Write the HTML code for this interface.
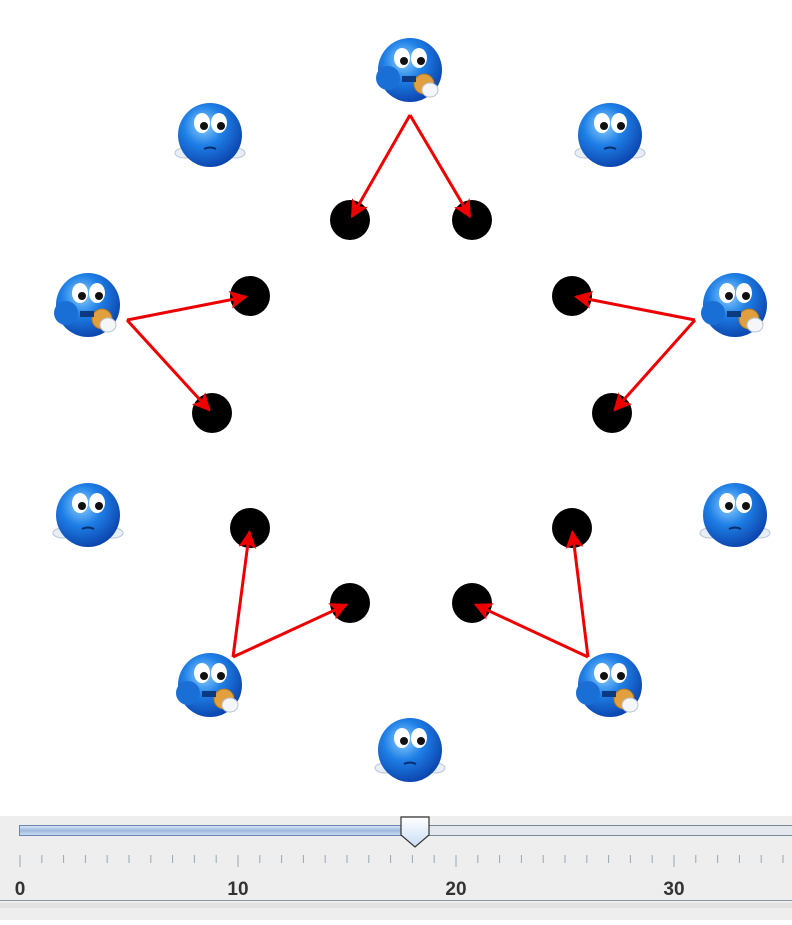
<!DOCTYPE html>
<html><head><meta charset="utf-8"><style>
body{margin:0;width:792px;height:920px;overflow:hidden;background:#fff;font-family:"Liberation Sans",sans-serif}
#slider{position:absolute;left:0;top:816px;width:792px;height:104px;background:#eeeeee}
</style></head><body>
<svg id="scene" width="792" height="816" style="position:absolute;left:0;top:0">
<defs>
<radialGradient id="face" cx="0.4" cy="0.35" r="0.7"><stop offset="0" stop-color="#8fd0ff"/><stop offset="0.45" stop-color="#1e7fe6"/><stop offset="1" stop-color="#0a3fa8"/></radialGradient>
<marker id="ah" markerWidth="20" markerHeight="18" refX="16" refY="9" orient="auto" markerUnits="userSpaceOnUse"><path d="M0,0 L18,9 L0,18 L4,9z" fill="#e00"/></marker>
</defs>
</svg>
<div id="slider">
<svg width="792" height="104">
<defs><linearGradient id="trk" x1="0" y1="0" x2="0" y2="1"><stop offset="0" stop-color="#dfe9f7"/><stop offset="0.5" stop-color="#9db8df"/><stop offset="1" stop-color="#cfdff2"/></linearGradient>
<linearGradient id="th" x1="0" y1="0" x2="0" y2="1"><stop offset="0" stop-color="#ffffff"/><stop offset="1" stop-color="#c9def5"/></linearGradient></defs>
<rect x="19.5" y="9.5" width="780" height="10" fill="#e4e8ee" stroke="#7a8797"/>
<rect x="19.5" y="9.5" width="396" height="10" fill="url(#trk)" stroke="#6b84b0"/>
<g id="ticks"></g>
<path d="M401,1 h28 v18 l-14,12 l-14,-12z" fill="url(#th)" stroke="#333" stroke-width="1.2"/>
<line x1="0" y1="84.5" x2="792" y2="84.5" stroke="#8a96a4"/>
<rect x="0" y="87" width="792" height="5" fill="#e2e2e2"/>
</svg></div>
<script>
const philX=[410,610,735,735,610,410,210,88,88,210];
const philY=[70,135,305,515,685,750,685,515,305,135];
const eating=[1,0,1,0,1,0,1,0,1,0];
const forkX=[350,472,572,612,572,472,350,250,212,250];
const forkY=[220,220,296,413,528,603,603,528,413,296];
const arrowFrom=[0,0,2,2,4,4,6,6,8,8];
const arrowTo=[0,1,2,3,4,5,6,7,8,9];
const arrowStartX=[410,410,695,695,588,588,233,233,127,127];
const arrowStartY=[115,115,320,320,657,657,657,657,320,320];
const NS="http://www.w3.org/2000/svg";
const sc=document.getElementById('scene');
function mk(t,a,p){const e=document.createElementNS(NS,t);for(const k in a)e.setAttribute(k,a[k]);(p||sc).appendChild(e);return e;}
for(let i=0;i<forkX.length;i++){
 const c=mk('circle',{cx:forkX[i],cy:forkY[i],r:20,fill:'#000'});
 
 
}
for(let i=0;i<philX.length;i++){
 const g=mk('g',{transform:`translate(${philX[i]},${philY[i]})`});
 
 
 if(!eating[i]){
  mk('ellipse',{cx:-25,cy:18,rx:10,ry:5,fill:'#e8eef5',stroke:'#b8c4d2'},g);
  mk('ellipse',{cx:25,cy:18,rx:10,ry:5,fill:'#e8eef5',stroke:'#b8c4d2'},g);
 }
 mk('circle',{cx:0,cy:0,r:32,fill:'url(#face)'},g);
 mk('ellipse',{cx:-8,cy:-12,rx:8,ry:10,fill:'#fff'},g);
 mk('ellipse',{cx:9,cy:-12,rx:8,ry:10,fill:'#fff'},g);
 mk('circle',{cx:-6,cy:-9,r:4,fill:'#111'},g);
 mk('circle',{cx:11,cy:-9,r:4,fill:'#111'},g);
 if(eating[i]){
  mk('circle',{cx:-22,cy:8,r:12,fill:'#1a6fd6'},g);
  mk('circle',{cx:14,cy:14,r:10,fill:'#e0a040',stroke:'#b47820'},g);
  mk('ellipse',{cx:20,cy:20,rx:8,ry:7,fill:'#f4f6f8',stroke:'#b8c4d2'},g);
  mk('rect',{x:-8,y:6,width:14,height:6,fill:'#0b3a80'},g);
 } else {
  mk('path',{d:'M-6,14 q6,-3 12,0',stroke:'#0a2e6a','stroke-width':2,fill:'none'},g);
 }
}
for(let i=0;i<arrowFrom.length;i++){
 const f=arrowTo[i];
 const dx=forkX[f]-arrowStartX[i],dy=forkY[f]-arrowStartY[i],d=Math.hypot(dx,dy);
 const l=mk('line',{x1:arrowStartX[i],y1:arrowStartY[i],x2:forkX[f]-dx/d*4,y2:forkY[f]-dy/d*4,stroke:'#e00','stroke-width':3,'marker-end':'url(#ah)'});
 
 
}
const tg=document.getElementById('ticks');
for(let v=0;v<=36;v+=1){
 const x=20+v*21.8;
 const maj=v%10===0;
 const t=mk('line',{x1:x,y1:39,x2:x,y2:maj?51:47,stroke:'#9aa6b4','stroke-width':1},tg);
 
 
 if(maj){
  const tx=mk('text',{x:x,y:79,'text-anchor':'middle','font-size':'19','font-weight':'bold',fill:'#333','font-family':'Liberation Sans, sans-serif'},tg);
  tx.textContent=v;
  
  
 }
}
</script>
</body></html>
